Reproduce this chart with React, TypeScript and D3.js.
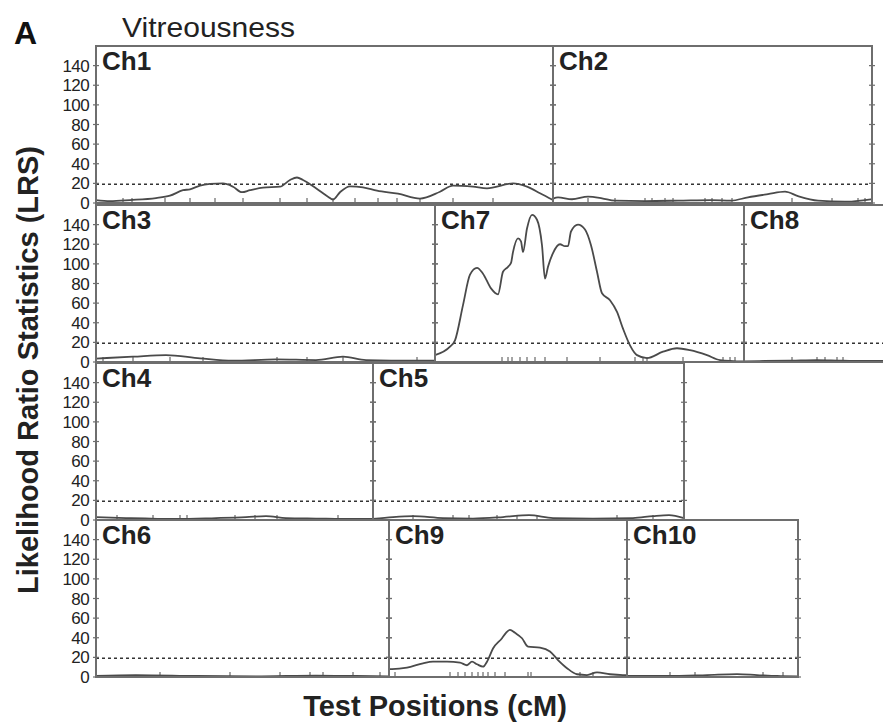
import React from "react";
import * as d3 from "d3";

// ---------- data ----------
const chromosomes = ["Ch1", "Ch2", "Ch3", "Ch4", "Ch5", "Ch6", "Ch7", "Ch8", "Ch9", "Ch10"];
const chromLengthsCM = [228.5, 159.5, 169.5, 138.5, 155.5, 146.5, 154.5, 160, 119, 85.5];
const panelRows = [
  ["Ch1", "Ch2"],
  ["Ch3", "Ch7", "Ch8"],
  ["Ch4", "Ch5"],
  ["Ch6", "Ch9", "Ch10"],
];
const yTicks = [0, 20, 40, 60, 80, 100, 120, 140];
const lrsThreshold = 19;

const ch1Pos = [0, 7, 17, 30, 37, 43.5, 47, 52, 57, 63.5, 68.5, 73, 77, 83.5, 92, 97, 100.5, 103.5, 110, 116, 118.5, 122, 127, 133.5, 140.5, 151, 162, 172, 178.5, 188.5, 195.5, 208.5, 215.5, 222, 228.5];
const ch1LRS = [3, 2, 3, 5, 7.5, 13, 14, 17.7, 19.4, 20, 16.6, 11, 13, 15.6, 16.6, 23.5, 26, 23.5, 15, 6.4, 3.5, 11, 17, 16, 12.6, 9.5, 4.5, 11.5, 17.7, 16.6, 15, 20, 16.6, 10, 3];
const ch1Markers = [13.5, 18, 34.5, 47, 59.5, 73.5, 92, 105.5, 118.5, 129.5, 141, 150.5, 162, 178.5, 198.5];

const ch2Pos = [0, 2.5, 9.5, 17.5, 24.5, 31, 46, 62.5, 79, 89, 97.5, 107.5, 116, 122.5, 132.5, 146, 156, 159.5];
const ch2LRS = [4.5, 5.8, 3.8, 6.4, 4.8, 2.4, 2, 2.4, 3, 2.4, 5.8, 9, 11.5, 7, 2.4, 1.3, 3, 3.8];
const ch2Markers = [17.5, 31, 46, 49.5, 56, 60, 76, 79.5, 84.5, 89.5, 119.5, 139.5, 152.5, 156];

const ch3Pos = [0, 18.5, 35, 52, 68.5, 90, 110, 123.5, 135, 160, 169.5];
const ch3LRS = [3.5, 5.4, 7, 3.7, 1.3, 2.7, 2, 5.4, 2, 1.3, 1.5];
const ch3Markers = [3.5, 18.5, 37, 53.5, 90.5, 105.5, 123.5, 160.5];

const ch4Pos = [0, 15, 40, 60, 75, 85, 95, 110, 130, 138.5];
const ch4LRS = [3, 2, 1, 2, 3, 4, 2, 1.5, 1, 1];
const ch4Markers = [10.5, 28.5, 42, 45.5, 69.5, 79.5, 90.5, 121];

const ch5Pos = [0, 10, 20, 35, 50, 65, 78, 90, 110, 130, 140, 148, 155.5];
const ch5LRS = [1, 3, 4, 2, 1.5, 3, 5, 2, 1.5, 2, 4, 5, 2];
const ch5Markers = [20, 40, 48, 62, 72, 82, 122, 140];

const ch6Pos = [0, 20, 50, 80, 110, 130, 146.5];
const ch6LRS = [1, 2, 1, 0.5, 1.5, 1, 0.5];
const ch6Markers = [32, 67, 92, 107, 113.5, 128.5, 142];

const ch7Pos = [0, 7.5, 10, 14, 17.5, 21, 24, 28, 31.5, 34, 36.5, 38, 39, 41.5, 43, 44, 46, 48.5, 51, 53.5, 55, 56.5, 59, 62.5, 65, 66.5, 68, 71.5, 75, 78, 81, 83.5, 87.5, 91, 94, 97.5, 101, 106, 114, 121, 127.5, 136, 142.5, 154.5];
const ch7LRS = [7, 15.6, 22, 58, 89, 96, 90, 75, 69, 92, 97, 101, 112, 126, 123, 112, 136, 150, 145, 119, 85, 97, 111, 120, 118, 118, 133, 140, 135, 119, 92, 70, 63, 51, 34, 17, 7, 4, 10.5, 14, 12, 7, 2, 0.5];
const ch7Markers = [33.5, 36.5, 38.5, 42.5, 46, 50, 55, 66, 82.5, 100, 104, 106, 124, 144, 147.5, 150];

const ch8Pos = [0, 10, 24, 36.5, 46.5, 55, 70, 90, 110, 130, 160];
const ch8LRS = [0.5, 1, 1.5, 2, 1.5, 1, 1, 1.5, 1, 1, 1];
const ch8Markers = [24, 36.5, 40.5, 46.5, 49.5];

const ch9Pos = [0, 1.5, 9, 17, 22, 29, 35.5, 39, 41.5, 44, 47, 49, 52, 56.5, 58.5, 60.5, 63, 66.5, 69.5, 75.5, 80.5, 84.5, 89, 94, 99, 104, 110.5, 117, 119];
const ch9LRS = [8, 8, 9.5, 14, 15.6, 15.6, 14.6, 12, 15.6, 13, 10.5, 15.6, 29, 39.5, 45, 48, 45, 39.5, 31, 30, 26, 17.3, 9, 2.8, 2, 4.8, 2.8, 2, 2];
const ch9Markers = [3, 30.5, 34.5, 38, 41.5, 44.5, 47, 49.5, 53, 58, 69.5, 71, 95.5, 102];

const ch10Pos = [0, 20, 40, 55, 65, 75, 85.5];
const ch10LRS = [1, 1, 2, 3, 2, 1, 0.5];
const ch10Markers = [21.5, 34, 68, 78];

const chromPos = [ch1Pos, ch2Pos, ch3Pos, ch4Pos, ch5Pos, ch6Pos, ch7Pos, ch8Pos, ch9Pos, ch10Pos];
const chromLRS = [ch1LRS, ch2LRS, ch3LRS, ch4LRS, ch5LRS, ch6LRS, ch7LRS, ch8LRS, ch9LRS, ch10LRS];
const chromMarkers = [ch1Markers, ch2Markers, ch3Markers, ch4Markers, ch5Markers, ch6Markers, ch7Markers, ch8Markers, ch9Markers, ch10Markers];

// ---------- layout ----------
const W = 883;
const H = 723;
const LEFT = 96;
const PX_PER_CM = 2;
const ROW_BOTTOMS = [203, 362, 520, 677];
const ROW_HEIGHT = 157;
const FONT = "'Liberation Sans', Arial, Helvetica, sans-serif";
const BORDER = "#6e6e6e";
const LINE = "#4a4a4a";

function Panel({ name, x0, bottom, showLabels }: { name: string; x0: number; bottom: number; showLabels: boolean }) {
  const i = chromosomes.indexOf(name);
  const len = chromLengthsCM[i];
  const x = d3.scaleLinear().domain([0, len]).range([x0, x0 + len * PX_PER_CM]);
  const y = d3.scaleLinear().domain([0, 160]).range([bottom, bottom - ROW_HEIGHT]);
  const pts: [number, number][] = chromPos[i].map((p, k) => [p, chromLRS[i][k]]);
  const line = d3
    .line<[number, number]>()
    .x((d) => x(d[0]))
    .y((d) => y(d[1]))
    .curve(d3.curveMonotoneX);
  const xl = x(0);
  const xr = x(len);
  return (
    <g>
      <line x1={xl} x2={xr} y1={y(lrsThreshold)} y2={y(lrsThreshold)} stroke="#333" strokeWidth={1.5} strokeDasharray="3,3" />
      <path d={line(pts) || ""} fill="none" stroke={LINE} strokeWidth={1.8} />
      {chromMarkers[i].map((m, k) => (
        <line key={"m" + k} x1={x(m)} x2={x(m)} y1={bottom} y2={bottom - 5} stroke={LINE} strokeWidth={1} />
      ))}
      {yTicks.map((t) => (
        <g key={"t" + t}>
          <line x1={xl - 3} x2={xl + 3} y1={y(t)} y2={y(t)} stroke={BORDER} strokeWidth={1.2} />
          <line x1={xr - 3} x2={xr + 3} y1={y(t)} y2={y(t)} stroke={BORDER} strokeWidth={1.2} />
        </g>
      ))}
      <rect x={xl} y={bottom - ROW_HEIGHT} width={xr - xl} height={ROW_HEIGHT} fill="none" stroke={BORDER} strokeWidth={2} />
      <text x={xl + 6} y={bottom - ROW_HEIGHT + 24} fontFamily={FONT} fontWeight="bold" fontSize={26} fill="#222">
        {name}
      </text>
      {showLabels &&
        yTicks.map((t) => (
          <text key={"l" + t} x={xl - 7} y={y(t)} dy="0.36em" textAnchor="end" fontFamily={FONT} fontSize={17} fill="#222" letterSpacing={-0.6}>
            {t}
          </text>
        ))}
    </g>
  );
}

export default function App() {
  return (
    <svg width={W} height={H} style={{ position: "absolute", left: 0, top: 0, background: "#fff" }}>
      <rect x={0} y={0} width={W} height={H} fill="#fff" />
      <text x={14} y={44} fontFamily={FONT} fontWeight="bold" fontSize={32} fill="#111">A</text>
      <text x={122} y={37} fontFamily={FONT} fontSize={28} fill="#222" textLength={173} lengthAdjust="spacingAndGlyphs">
        Vitreousness
      </text>
      {panelRows.map((row, r) => {
        let cursor = LEFT;
        return (
          <g key={"row" + r}>
            {row.map((name, c) => {
              const x0 = cursor;
              cursor += chromLengthsCM[chromosomes.indexOf(name)] * PX_PER_CM;
              return <Panel key={name} name={name} x0={x0} bottom={ROW_BOTTOMS[r]} showLabels={c === 0} />;
            })}
          </g>
        );
      })}
      <text
        transform="translate(38,370) rotate(-90)"
        textAnchor="middle"
        fontFamily={FONT}
        fontWeight="bold"
        fontSize={29}
        fill="#222"
      >
        Likelihood Ratio Statistics (LRS)
      </text>
      <text x={435} y={716} textAnchor="middle" fontFamily={FONT} fontWeight="bold" fontSize={29} fill="#222">
        Test Positions (cM)
      </text>
    </svg>
  );
}
